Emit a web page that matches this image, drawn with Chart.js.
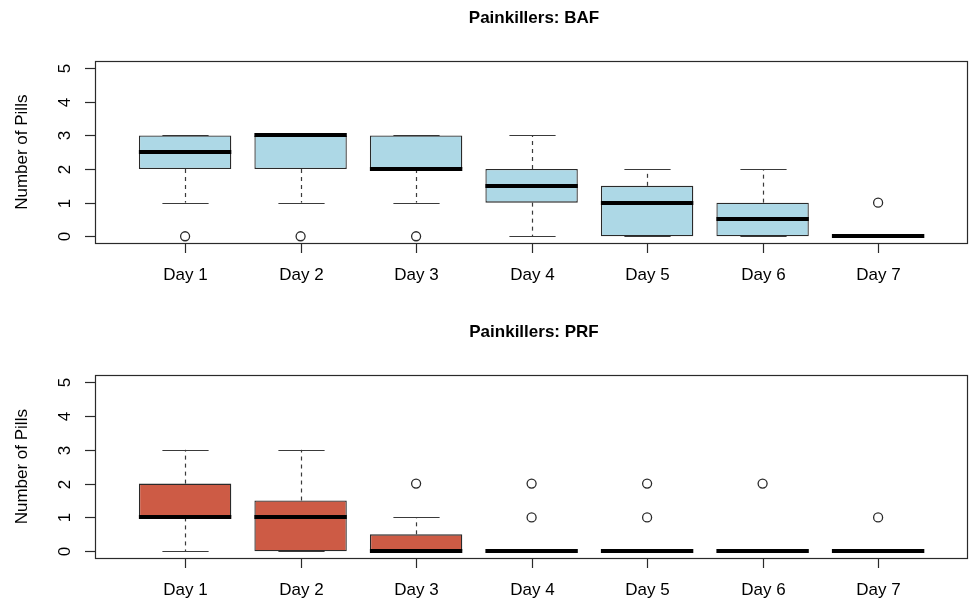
<!DOCTYPE html>
<html>
<head>
<meta charset="utf-8">
<script src="https://cdn.jsdelivr.net/npm/chart.js@4/dist/chart.umd.min.js"></script>
<style>
  html, body { margin: 0; padding: 0; background: #fff; overflow: hidden; }
  .wrap { position: relative; width: 974px; }
  canvas { display: block; }
</style>
</head>
<body>
<div class="wrap" style="height:301px"><canvas id="bafChart"></canvas></div>
<div class="wrap" style="height:302px"><canvas id="prfChart"></canvas></div>
<script>
// Categories and axis ticks
const days = ['Day 1', 'Day 2', 'Day 3', 'Day 4', 'Day 5', 'Day 6', 'Day 7'];
const yTicks = [0, 1, 2, 3, 4, 5];

// BAF box stats (lower whisker, Q1, median, Q3, upper whisker)
const bafLow  = [1, 1, 1, 0, 0, 0, 0];
const bafQ1   = [2, 2, 2, 1, 0, 0, 0];
const bafMed  = [2.5, 3, 2, 1.5, 1, 0.5, 0];
const bafQ3   = [3, 3, 3, 2, 1.5, 1, 0];
const bafHigh = [3, 3, 3, 3, 2, 2, 0];
const bafOutDay = [1, 2, 3, 7];
const bafOutVal = [0, 0, 0, 1];

// PRF box stats
const prfLow  = [0, 0, 0, 0, 0, 0, 0];
const prfQ1   = [1, 0, 0, 0, 0, 0, 0];
const prfMed  = [1, 1, 0, 0, 0, 0, 0];
const prfQ3   = [2, 1.5, 0.5, 0, 0, 0, 0];
const prfHigh = [3, 3, 1, 0, 0, 0, 0];
const prfOutDay = [3, 4, 4, 5, 5, 6, 7];
const prfOutVal = [2, 1, 2, 1, 2, 2, 1];

const FONT = "'Liberation Sans', Arial, Helvetica, sans-serif";
const lineCol = '#2a2a2a';

// draws whiskers, medians and the R-style axes using the chart scales
const boxExtras = {
    id: 'boxExtras',
    beforeDatasetsDraw(chart, args, opts) {
        const {ctx, scales: {x, y}} = chart;
        const half = chart.getDatasetMeta(0).data[0].width / 2;
        ctx.save();
        ctx.strokeStyle = '#3a3a3a';
        ctx.lineWidth = 1.2;
        opts.low.forEach((lo, i) => {
            const cx = Math.round(x.getPixelForValue(i + 1)) + 0.5;
            // dashed whiskers
            ctx.setLineDash([4, 4]);
            [[opts.q3[i], opts.high[i]], [opts.q1[i], lo]].forEach(([a, b]) => {
                if (a === b) return;
                ctx.beginPath();
                ctx.moveTo(cx, y.getPixelForValue(a));
                ctx.lineTo(cx, y.getPixelForValue(b));
                ctx.stroke();
            });
            // caps
            ctx.setLineDash([]);
            [lo, opts.high[i]].forEach(v => {
                const py = Math.round(y.getPixelForValue(v)) + 0.5;
                ctx.beginPath();
                ctx.moveTo(cx - half / 2, py);
                ctx.lineTo(cx + half / 2, py);
                ctx.stroke();
            });
        });
        ctx.restore();
    },
    afterDatasetsDraw(chart, args, opts) {
        const {ctx, scales: {x, y}} = chart;
        const half = chart.getDatasetMeta(0).data[0].width / 2;
        ctx.save();
        ctx.strokeStyle = '#000';
        ctx.lineWidth = 4;
        ctx.lineCap = 'butt';
        opts.med.forEach((m, i) => {
            const cx = x.getPixelForValue(i + 1);
            const py = Math.round(y.getPixelForValue(m));
            ctx.beginPath();
            ctx.moveTo(cx - half, py);
            ctx.lineTo(cx + half, py);
            ctx.stroke();
        });
        ctx.restore();
    },
    afterDraw(chart) {
        const {ctx, chartArea: ca, scales: {x, y}} = chart;
        ctx.save();
        ctx.strokeStyle = lineCol;
        ctx.lineWidth = 1.2;
        ctx.strokeRect(Math.round(ca.left) + 0.5, Math.round(ca.top) + 0.5,
            Math.round(ca.right - ca.left) - 1, Math.round(ca.bottom - ca.top));
        ctx.fillStyle = '#000';
        ctx.font = '17px ' + FONT;
        ctx.textAlign = 'center';
        ctx.textBaseline = 'middle';
        // x ticks
        x.ticks.forEach((t, i) => {
            const px = Math.round(x.getPixelForValue(t.value)) + 0.5;
            ctx.beginPath();
            ctx.moveTo(px, ca.bottom);
            ctx.lineTo(px, ca.bottom + 10);
            ctx.stroke();
            ctx.fillText(days[i], px, ca.bottom + 32);
        });
        // y ticks, labels rotated like R
        yTicks.forEach(v => {
            const py = Math.round(y.getPixelForValue(v)) + 0.5;
            ctx.beginPath();
            ctx.moveTo(ca.left - 10, py);
            ctx.lineTo(ca.left, py);
            ctx.stroke();
            ctx.save();
            ctx.translate(ca.left - 30, py);
            ctx.rotate(-Math.PI / 2);
            ctx.fillText(String(v), 0, 0);
            ctx.restore();
        });
        ctx.save();
        ctx.translate(22, (ca.top + ca.bottom) / 2);
        ctx.rotate(-Math.PI / 2);
        ctx.fillText('Number of Pills', 0, 0);
        ctx.restore();
        ctx.restore();
    }
};

function makeBoxChart(id, title, color, low, q1, med, q3, high, outDay, outVal, pad) {
    const ctx = document.getElementById(id).getContext('2d');
    new Chart(ctx, {
        type: 'bar',
        data: {
            datasets: [{
                type: 'bar',
                data: days.map((d, i) => ({x: i + 1, y: [q1[i], q3[i]]})),
                backgroundColor: color,
                borderColor: lineCol,
                borderWidth: 1.3,
                borderSkipped: false,
                barPercentage: 0.8,
                categoryPercentage: 1.0
            }, {
                type: 'scatter',
                data: outDay.map((d, i) => ({x: d, y: outVal[i]})),
                backgroundColor: '#fff',
                borderColor: lineCol,
                borderWidth: 1.3,
                pointRadius: 4.5,
                pointHoverRadius: 4.5
            }]
        },
        options: {
            responsive: true,
            maintainAspectRatio: false,
            animation: false,
            layout: { padding: { left: 95, right: 1, top: 0, bottom: pad.bottom } },
            scales: {
                x: {
                    type: 'linear', min: 0.22, max: 7.78, display: false, offset: false,
                    grid: { offset: false },
                    afterBuildTicks: s => { s.ticks = days.map((d, i) => ({value: i + 1})); }
                },
                y: { min: -0.2, max: 5.2, display: false }
            },
            plugins: {
                legend: { display: false },
                tooltip: { enabled: false },
                title: {
                    display: true,
                    text: title,
                    color: '#000',
                    font: { family: FONT, size: 17, weight: 'bold' },
                    padding: { top: pad.titleTop, bottom: 33 }
                },
                boxExtras: { low, q1, med, q3, high }
            }
        },
        plugins: [boxExtras]
    });
}

makeBoxChart('bafChart', 'Painkillers: BAF', '#ADD8E6',
    bafLow, bafQ1, bafMed, bafQ3, bafHigh, bafOutDay, bafOutVal, {titleTop: 8, bottom: 58});
makeBoxChart('prfChart', 'Painkillers: PRF', '#CD5B45',
    prfLow, prfQ1, prfMed, prfQ3, prfHigh, prfOutDay, prfOutVal, {titleTop: 21, bottom: 45});
</script>
</body>
</html>
